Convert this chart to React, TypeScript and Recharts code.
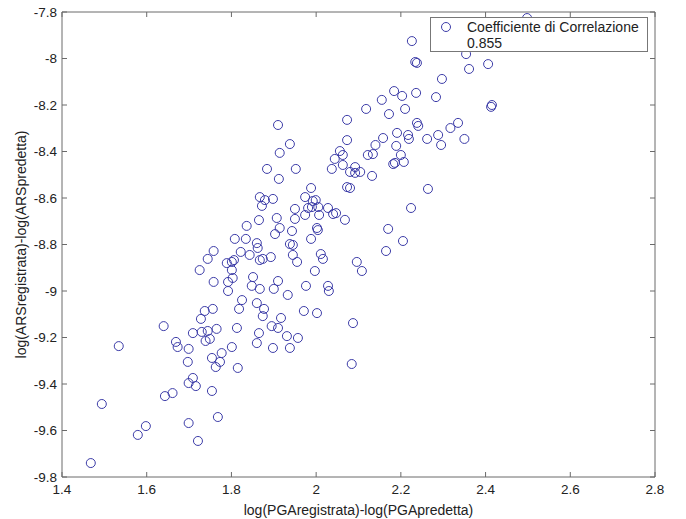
import React from 'react';
import { ScatterChart, Scatter, XAxis, YAxis, Legend } from 'recharts';

const pgaDiff = [
  2.498, 2.226, 2.234, 2.238, 2.354, 2.361, 2.406, 2.297, 2.184, 2.203,
  2.236, 2.283, 2.155, 2.118, 2.172, 2.210, 2.073, 2.413, 2.415, 2.238,
  2.241, 2.335, 2.317, 2.191, 2.217, 2.219, 2.158, 2.262, 2.288, 2.350,
  2.295, 2.073, 2.140, 2.189, 2.056, 2.063, 2.044, 2.122, 2.134, 2.200,
  2.063, 2.092, 2.037, 2.080, 2.092, 2.104, 2.132, 2.182, 2.186, 2.207,
  2.073, 2.080, 2.264, 1.988, 1.974, 1.992, 1.999, 1.981, 1.990, 2.005,
  1.974, 2.007, 2.028, 2.040, 2.047, 2.068, 2.224, 2.002, 2.004, 1.988,
  2.170, 2.205, 2.165, 2.011, 2.016, 2.096, 2.108, 1.997, 1.955, 1.976,
  2.028, 2.030, 1.971, 2.002, 2.087, 1.957, 1.910, 1.938, 1.914, 1.884,
  1.952, 1.912, 1.950, 1.867, 1.872, 1.879, 1.898, 1.950, 1.907, 1.914,
  1.903, 1.865, 1.836, 1.943, 1.808, 1.834, 1.860, 1.862, 1.822, 1.843,
  1.867, 1.874, 1.893, 1.938, 1.945, 1.945, 1.758, 1.744, 1.725, 1.789,
  1.801, 1.806, 1.801, 1.803, 1.792, 1.792, 1.758, 1.851, 1.848, 1.867,
  1.910, 1.900, 1.933, 1.825, 1.818, 1.860, 1.877, 1.874, 1.917, 1.737,
  1.756, 1.728, 1.640, 1.709, 1.730, 1.744, 1.765, 1.813, 1.895, 1.910,
  1.739, 1.749, 1.865, 1.860, 1.931, 1.898, 1.938, 1.801, 1.699, 1.669,
  1.673, 1.697, 1.754, 1.763, 1.773, 1.777, 1.815, 1.709, 2.084, 1.534,
  1.699, 1.716, 1.754, 1.643, 1.661, 1.494, 1.598, 1.579, 1.699, 1.768,
  1.721, 1.468,
];

const arsDiff = [
  -7.826, -7.925, -8.015, -8.019, -7.981, -8.045, -8.024, -8.088, -8.140, -8.161,
  -8.148, -8.166, -8.178, -8.217, -8.239, -8.217, -8.264, -8.208, -8.200, -8.277,
  -8.290, -8.277, -8.299, -8.320, -8.329, -8.346, -8.342, -8.346, -8.329, -8.346,
  -8.372, -8.351, -8.372, -8.376, -8.398, -8.415, -8.432, -8.415, -8.411, -8.415,
  -8.458, -8.467, -8.475, -8.488, -8.492, -8.488, -8.505, -8.454, -8.449, -8.445,
  -8.553, -8.557, -8.561, -8.557, -8.596, -8.613, -8.609, -8.643, -8.639, -8.639,
  -8.673, -8.673, -8.643, -8.669, -8.665, -8.694, -8.643, -8.729, -8.738, -8.776,
  -8.733, -8.785, -8.828, -8.841, -8.862, -8.875, -8.914, -8.914, -8.875, -8.978,
  -8.978, -9.000, -9.086, -9.095, -9.138, -9.202, -8.286, -8.368, -8.406, -8.475,
  -8.475, -8.518, -8.647, -8.596, -8.634, -8.609, -8.604, -8.690, -8.686, -8.729,
  -8.755, -8.695, -8.720, -8.742, -8.776, -8.776, -8.794, -8.815, -8.832, -8.845,
  -8.867, -8.862, -8.854, -8.798, -8.802, -8.845, -8.828, -8.862, -8.910, -8.880,
  -8.875, -8.867, -8.910, -8.944, -8.961, -9.000, -8.961, -8.940, -8.978, -8.991,
  -8.957, -8.991, -9.017, -9.039, -9.077, -9.052, -9.077, -9.108, -9.116, -9.086,
  -9.077, -9.120, -9.151, -9.181, -9.176, -9.172, -9.163, -9.159, -9.151, -9.159,
  -9.215, -9.206, -9.181, -9.224, -9.194, -9.245, -9.245, -9.241, -9.249, -9.219,
  -9.241, -9.305, -9.288, -9.327, -9.305, -9.267, -9.331, -9.374, -9.314, -9.237,
  -9.396, -9.409, -9.430, -9.452, -9.439, -9.486, -9.581, -9.619, -9.568, -9.542,
  -9.645, -9.740,
];

const xTicks = [1.4, 1.6, 1.8, 2, 2.2, 2.4, 2.6, 2.8];
const yTicks = [-9.8, -9.6, -9.4, -9.2, -9, -8.8, -8.6, -8.4, -8.2, -8, -7.8];
const legendLabel = 'Coefficiente di Correlazione';
const correlationValue = '0.855';
const xTitle = 'log(PGAregistrata)-log(PGApredetta)';
const yTitle = 'log(ARSregistrata)-log(ARSpredetta)';

const points = pgaDiff.map((x, i) => ({ x, y: arsDiff[i] }));

const FONT = '"Liberation Sans", Arial, Helvetica, sans-serif';
const AXIS = '#6a6a6a';
const TEXT = '#222222';
const MARKER = '#3c3ca8';

const Ring = (props: any) => {
  const { cx, cy } = props;
  if (cx == null || cy == null) return <g />;
  return <circle cx={cx} cy={cy} r={4.5} fill="none" stroke={MARKER} strokeWidth={1} />;
};

const Hidden = () => <g />;

const YTitle = (props: any) => {
  const vb = props.viewBox || { x: 0, y: 0, width: 0, height: 0 };
  const cx = vb.x + 21;
  const cy = vb.y + vb.height / 2;
  return (
    <text
      x={cx}
      y={cy}
      transform={`rotate(-90 ${cx} ${cy})`}
      textAnchor="middle"
      dominantBaseline="central"
      fontFamily={FONT}
      fontSize={14}
      fill={TEXT}
    >
      {yTitle}
    </text>
  );
};

const NoTick = () => <g />;

const LegendBox = () => (
  <div
    style={{
      width: 216,
      height: 33,
      border: '1px solid #777',
      background: '#fff',
      fontFamily: FONT,
      fontSize: 14,
      color: TEXT,
      position: 'relative',
      lineHeight: '16px',
    }}
  >
    <svg width={12} height={12} style={{ position: 'absolute', left: 9, top: 3 }}>
      <circle cx={6} cy={6} r={4.5} fill="none" stroke={MARKER} strokeWidth={1} />
    </svg>
    <div style={{ position: 'absolute', left: 36, top: 1, whiteSpace: 'nowrap' }}>{legendLabel}</div>
    <div style={{ position: 'absolute', left: 36, top: 17 }}>{correlationValue}</div>
  </div>
);

const tickStyle = { fontSize: 13.5, fill: TEXT, fontFamily: FONT };

export default function App() {
  return (
    <div style={{ position: 'absolute', left: 0, top: 0, width: 686, height: 519, background: '#fff' }}>
      <ScatterChart width={686} height={519} margin={{ top: 11, right: 30, bottom: 0, left: 0 }}>
        <XAxis
          xAxisId="b"
          type="number"
          dataKey="x"
          orientation="bottom"
          domain={[1.4, 2.8]}
          ticks={xTicks}
          interval={0}
          height={42}
          tickSize={-5}
          tickMargin={12}
          tick={tickStyle}
          axisLine={{ stroke: AXIS }}
          tickLine={{ stroke: AXIS }}
          label={{ value: xTitle, position: 'insideBottom', offset: 4, fontSize: 14, fill: TEXT, fontFamily: FONT }}
        />
        <XAxis
          xAxisId="t"
          type="number"
          dataKey="x"
          orientation="top"
          domain={[1.4, 2.8]}
          ticks={xTicks}
          interval={0}
          height={1}
          tickSize={-5}
          tick={NoTick}
          axisLine={{ stroke: AXIS }}
          tickLine={{ stroke: AXIS }}
        />
        <YAxis
          yAxisId="l"
          type="number"
          dataKey="y"
          orientation="left"
          domain={[-9.8, -7.8]}
          ticks={yTicks}
          interval={0}
          width={62}
          tickSize={-5}
          tickMargin={10}
          tick={tickStyle}
          axisLine={{ stroke: AXIS }}
          tickLine={{ stroke: AXIS }}
          label={<YTitle />}
        />
        <YAxis
          yAxisId="r"
          type="number"
          dataKey="y"
          orientation="right"
          domain={[-9.8, -7.8]}
          ticks={yTicks}
          interval={0}
          width={1}
          tickSize={-5}
          tick={NoTick}
          axisLine={{ stroke: AXIS }}
          tickLine={{ stroke: AXIS }}
        />
        <Legend
          layout="horizontal"
          verticalAlign="middle"
          align="center"
          content={<LegendBox />}
          wrapperStyle={{ top: 17, left: 430, width: 218, height: 35 }}
        />
        <Scatter
          xAxisId="b"
          yAxisId="l"
          name={legendLabel}
          data={points}
          shape={Ring}
          isAnimationActive={false}
        />
        <Scatter
          xAxisId="t"
          yAxisId="r"
          name="frame"
          legendType="none"
          data={points}
          shape={Hidden}
          isAnimationActive={false}
        />
      </ScatterChart>
    </div>
  );
}
